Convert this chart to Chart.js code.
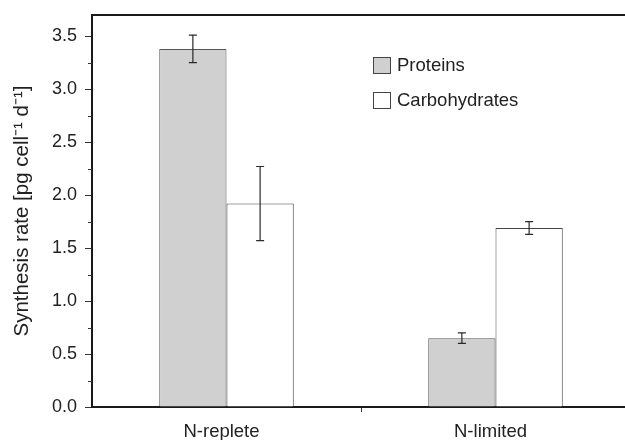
<!DOCTYPE html>
<html>
<head>
<meta charset="utf-8">
<script src="https://cdn.jsdelivr.net/npm/chart.js@4/dist/chart.umd.min.js"></script>
<style>
  html, body { margin: 0; padding: 0; background: #fff; overflow: hidden; }
  #wrap { width: 625px; height: 440px; overflow: hidden; }
</style>
</head>
<body>
<!-- the plot runs a few pixels past the visible right edge -->
<div id="wrap"><canvas id="chart" width="630" height="440"></canvas></div>
<script>
// Data
const conditions = ["N-replete", "N-limited"];
const proteins = [3.38, 0.65];
const proteinsErr = [0.13, 0.05];
const carbohydrates = [1.92, 1.69];
const carbohydratesErr = [0.35, 0.06];
const seriesNames = ["Proteins", "Carbohydrates"];

const FONT = "'Liberation Sans', Arial, sans-serif";
const INK = "#1a1a1a";

// Error bars drawn from each bar's value +/- its error
const errorBars = {
  id: "errorBars",
  afterDatasetsDraw(chart) {
    const { ctx } = chart;
    const y = chart.scales.y;
    chart.data.datasets.forEach((ds, i) => {
      const meta = chart.getDatasetMeta(i);
      meta.data.forEach((bar, j) => {
        const v = ds.data[j];
        const e = ds.errors[j];
        const top = y.getPixelForValue(v + e);
        const bot = y.getPixelForValue(v - e);
        ctx.save();
        ctx.strokeStyle = "#2a2a2a";
        ctx.lineWidth = 1.2;
        ctx.beginPath();
        ctx.moveTo(bar.x, top);
        ctx.lineTo(bar.x, bot);
        ctx.moveTo(bar.x - 4, top);
        ctx.lineTo(bar.x + 4, top);
        ctx.moveTo(bar.x - 4, bot);
        ctx.lineTo(bar.x + 4, bot);
        ctx.stroke();
        ctx.restore();
      });
    });
  },
};

// Top frame line, short minor ticks on y, and the legend inside the plot
const frame = {
  id: "frame",
  afterDraw(chart) {
    const { ctx, chartArea: a } = chart;
    const y = chart.scales.y;
    ctx.save();
    ctx.strokeStyle = INK;
    ctx.lineWidth = 2;
    ctx.beginPath();
    ctx.moveTo(a.left - 1, a.top);
    ctx.lineTo(a.right, a.top);
    ctx.stroke();

    ctx.lineWidth = 1;
    ctx.strokeStyle = "#333";
    y.ticks.forEach((t) => {
      const half = t.value * 2;
      if (Math.abs(half - Math.round(half)) < 1e-6) return;
      const py = Math.round(y.getPixelForValue(t.value)) + 0.5;
      ctx.beginPath();
      ctx.moveTo(a.left - 4, py);
      ctx.lineTo(a.left, py);
      ctx.stroke();
    });

    // legend
    const lx = a.left + 281;
    const ly = a.top + 42;
    ctx.font = "18.5px " + FONT;
    ctx.textBaseline = "middle";
    chart.data.datasets.forEach((ds, i) => {
      const by = ly + i * 35;
      ctx.fillStyle = ds.backgroundColor;
      ctx.fillRect(lx, by, 18, 17);
      ctx.strokeStyle = "#444";
      ctx.lineWidth = 1;
      ctx.strokeRect(lx + 0.5, by + 0.5, 17, 16);
      ctx.fillStyle = "#222";
      ctx.fillText(ds.label, lx + 24, by + 9);
    });
    ctx.restore();
  },
};

new Chart(document.getElementById("chart"), {
  type: "bar",
  data: {
    labels: conditions,
    datasets: [
      {
        label: seriesNames[0],
        data: proteins,
        errors: proteinsErr,
        backgroundColor: "#d0d0d0",
        borderColor: "#555",
        borderWidth: 1,
      },
      {
        label: seriesNames[1],
        data: carbohydrates,
        errors: carbohydratesErr,
        backgroundColor: "#ffffff",
        borderColor: "#444",
        borderWidth: 1,
      },
    ],
  },
  options: {
    responsive: false,
    animation: false,
    layout: { padding: { top: 15, right: 0, left: 0, bottom: 0 } },
    datasets: { bar: { categoryPercentage: 0.5, barPercentage: 1.0 } },
    plugins: { legend: { display: false }, tooltip: { enabled: false } },
    scales: {
      x: {
        type: "category",
        offset: true,
        border: { color: INK, width: 2 },
        grid: {
          offset: true,
          drawOnChartArea: false,
          tickLength: 5,
          tickColor: (c) => (c.index === 1 ? "#333" : "rgba(0,0,0,0)"),
        },
        ticks: {
          color: "#222",
          font: { family: FONT, size: 18.5 },
          padding: 9,
          labelOffset: -5,
        },
        afterFit: (s) => { s.height = 33; },
      },
      y: {
        min: 0,
        max: 3.7,
        border: { color: INK, width: 2 },
        grid: {
          drawOnChartArea: false,
          tickLength: 7,
          tickColor: (c) => {
            const half = c.tick ? c.tick.value * 2 : 0.5;
            return Math.abs(half - Math.round(half)) < 1e-6 ? "#333" : "rgba(0,0,0,0)";
          },
        },
        ticks: {
          stepSize: 0.25,
          autoSkip: false,
          includeBounds: false,
          color: "#222",
          padding: 8,
          font: { family: FONT, size: 18 },
          callback: (v) => {
            const half = v * 2;
            return Math.abs(half - Math.round(half)) < 1e-6 ? v.toFixed(1) : "";
          },
        },
        title: {
          display: true,
          text: "Synthesis rate [pg cell\u207B\u00B9 d\u207B\u00B9]",
          color: "#222",
          font: { family: FONT, size: 20.5 },
          padding: { top: 10, bottom: 0 },
        },
        afterFit: (s) => {
          s.width = 92;
          s.paddingTop = 0;
          s.paddingBottom = 0;
        },
      },
    },
  },
  plugins: [errorBars, frame],
});
</script>
</body>
</html>
